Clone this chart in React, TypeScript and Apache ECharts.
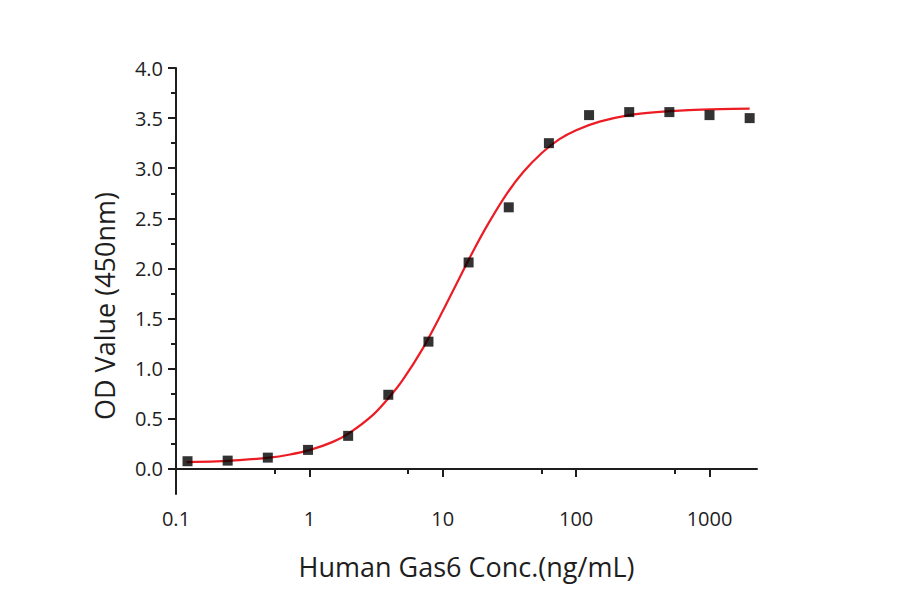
import * as echarts from "echarts";
import { useEffect, useRef } from "react";

const concentrations = [0.122, 0.244, 0.488, 0.977, 1.953, 3.906, 7.813, 15.625, 31.25, 62.5, 125, 250, 500, 1000, 2000];
const odValues = [0.077, 0.083, 0.113, 0.19, 0.33, 0.74, 1.27, 2.06, 2.61, 3.25, 3.53, 3.56, 3.56, 3.53, 3.5];

// fitted curve
const fitX = [0.12, 0.2, 0.3, 0.5, 0.7, 1, 1.5, 2, 3, 4, 5, 7, 10, 13, 17, 22, 30, 40, 55, 75, 100, 150, 250, 400, 700, 1200, 2000];
const fitY = [0.068, 0.076, 0.088, 0.113, 0.142, 0.188, 0.27, 0.36, 0.54, 0.72, 0.885, 1.19, 1.575, 1.875, 2.18, 2.45, 2.74, 2.96, 3.15, 3.29, 3.38, 3.465, 3.53, 3.56, 3.58, 3.59, 3.595];

const xTicks = [0.1, 1, 10, 100, 1000];
const xMinorTicks = [0.55, 5.5, 55, 550];
const yTicks = [0, 0.5, 1, 1.5, 2, 2.5, 3, 3.5, 4];
const yMinorTicks = [0.25, 0.75, 1.25, 1.75, 2.25, 2.75, 3.25, 3.75];

const INK = "#1e1e1e";
const RED = "#ec1c24";
const FONT = "Open Sans";

const X_MIN = 0.1;
const X_MAX = 2270;
const Y_MIN = -0.25;
const Y_MAX = 4;

export default function App() {
  const ref = useRef<HTMLDivElement>(null);

  useEffect(() => {
    const el = ref.current;
    if (!el) return;
    const chart = echarts.init(el, null, { renderer: "svg" });

    const axisLine = { show: true, lineStyle: { color: INK, width: 2 } };
    const labelStyle = { color: INK, fontSize: 20, fontFamily: FONT };

    chart.setOption({
      animation: false,
      grid: { left: 176, right: 143, top: 68, bottom: 100 },
      xAxis: [
        {
          type: "log",
          logBase: 10,
          min: X_MIN,
          max: X_MAX,
          position: "bottom",
          axisLine,
          axisTick: { show: true, customValues: xTicks, length: 8, lineStyle: { color: INK, width: 2 } },
          axisLabel: { ...labelStyle, customValues: xTicks, margin: 14, formatter: (v: number) => String(v) },
          splitLine: { show: false },
          name: "Human Gas6 Conc.(ng/mL)",
          nameLocation: "middle",
          nameGap: 59,
          nameTextStyle: { color: INK, fontSize: 27, fontFamily: FONT },
        },
        {
          type: "log",
          logBase: 10,
          min: X_MIN,
          max: X_MAX,
          position: "bottom",
          axisLine: { show: false },
          axisTick: { show: true, customValues: xMinorTicks, length: 5, lineStyle: { color: INK, width: 2 } },
          axisLabel: { show: false },
          splitLine: { show: false },
        },
      ],
      yAxis: [
        {
          type: "value",
          min: Y_MIN,
          max: Y_MAX,
          position: "left",
          axisLine,
          axisTick: { show: true, customValues: yTicks, length: 8, lineStyle: { color: INK, width: 2 } },
          axisLabel: { ...labelStyle, customValues: yTicks, margin: 13, formatter: (v: number) => v.toFixed(1) },
          splitLine: { show: false },
          name: "OD Value (450nm)",
          nameLocation: "middle",
          nameGap: 58,
          nameTextStyle: { color: INK, fontSize: 27, fontFamily: FONT, padding: [0, 50, 0, 0] },
        },
        {
          type: "value",
          min: Y_MIN,
          max: Y_MAX,
          position: "left",
          axisLine: { show: false },
          axisTick: { show: true, customValues: yMinorTicks, length: 5, lineStyle: { color: INK, width: 2 } },
          axisLabel: { show: false },
          splitLine: { show: false },
        },
      ],
      series: [
        {
          type: "line",
          xAxisIndex: 0,
          yAxisIndex: 0,
          data: fitX.map((x, i) => [x, fitY[i]]),
          smooth: 0.3,
          showSymbol: false,
          lineStyle: { color: RED, width: 2.2 },
          z: 2,
        },
        {
          type: "scatter",
          xAxisIndex: 0,
          yAxisIndex: 0,
          data: concentrations.map((x, i) => [x, odValues[i]]),
          symbol: "rect",
          symbolSize: 10,
          itemStyle: { color: "#000000" },
          z: 3,
        },
      ],
    });

    return () => chart.dispose();
  }, []);

  return <div ref={ref} style={{ position: "absolute", left: 0, top: 0, width: 900, height: 594 }} />;
}
